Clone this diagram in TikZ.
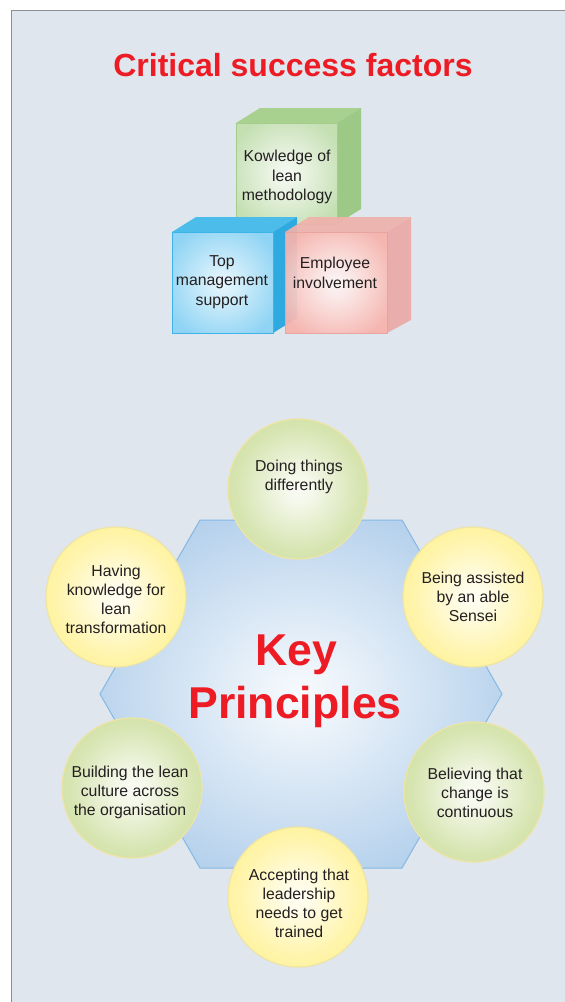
\documentclass[tikz,border=0pt]{standalone}
\usepackage{fontspec}
\setmainfont{Liberation Sans}
\definecolor{panel}{HTML}{DFE6ED}
\definecolor{panelrule}{HTML}{8E8E8E}
\definecolor{txt}{HTML}{231F20}
\definecolor{keyred}{HTML}{ED1C24}
\definecolor{greenout}{HTML}{CADC98}
\definecolor{yellowout}{HTML}{FFF08C}
\definecolor{rim}{HTML}{EDE4A6}
\definecolor{hexout}{HTML}{A2C5E7}
\definecolor{hexrim}{HTML}{86B8E3}
\definecolor{gfront}{HTML}{C4DFB2}
\definecolor{gtop}{HTML}{A8D08E}
\definecolor{gside}{HTML}{9CC986}
\definecolor{grim}{HTML}{A3CD8C}
\definecolor{bfront}{HTML}{8FD4F4}
\definecolor{btop}{HTML}{4CBCEB}
\definecolor{bside}{HTML}{2FAAE0}
\definecolor{brim}{HTML}{3DB3E7}
\definecolor{rfront}{HTML}{F7B3AC}
\definecolor{rtop}{HTML}{EFB2AC}
\definecolor{rside}{HTML}{EAAAA6}
\definecolor{rrim}{HTML}{E8A39E}
\pgfdeclareradialshading{greenball}{\pgfpoint{0bp}{0bp}}{color(0bp)=(white!90!greenout); color(5bp)=(white!80!greenout); color(22bp)=(white!25!greenout); color(35bp)=(greenout); color(50bp)=(greenout)}
\pgfdeclareradialshading{yellowball}{\pgfpoint{0bp}{0bp}}{color(0bp)=(white!90!yellowout); color(5bp)=(white!80!yellowout); color(22bp)=(white!25!yellowout); color(35bp)=(yellowout); color(50bp)=(yellowout)}
\pgfdeclareradialshading{hexshade}{\pgfpoint{0bp}{0bp}}{color(0bp)=(white!92!hexout); color(5bp)=(white!80!hexout); color(22bp)=(white!35!hexout); color(35bp)=(hexout); color(50bp)=(hexout)}
\pgfdeclareradialshading{gshade}{\pgfpoint{0bp}{0bp}}{color(0bp)=(white!85!gfront); color(8bp)=(white!65!gfront); color(30bp)=(gfront); color(50bp)=(gfront)}
\pgfdeclareradialshading{bshade}{\pgfpoint{0bp}{0bp}}{color(0bp)=(white!80!bfront); color(8bp)=(white!60!bfront); color(30bp)=(bfront); color(50bp)=(bfront)}
\pgfdeclareradialshading{rshade}{\pgfpoint{0bp}{0bp}}{color(0bp)=(white!90!rfront); color(8bp)=(white!70!rfront); color(30bp)=(rfront); color(50bp)=(rfront)}
\tikzset{
  ball/.style={circle, minimum size=140pt, inner sep=0pt, draw=rim, line width=1.2pt, shading=#1},
  lbl/.style={align=center, text=txt, font=\fontsize{15.8}{19}\selectfont, inner sep=0pt},
  cubelbl/.style={align=center, text=txt, font=\fontsize{15.8}{19.5}\selectfont, inner sep=0pt},
  bigred/.style={text=keyred, font=\bfseries\fontsize{44.6}{53}\selectfont, inner sep=0pt, anchor=base},
}
\begin{document}
\begin{tikzpicture}[x=1pt,y=-1pt]
\useasboundingbox (0,0) rectangle (565,1002);
\fill[white] (0,0) rectangle (565,1002);
\fill[panel] (11,10) rectangle (566,1003);
\draw[panelrule, line width=1.3pt] (11.6,1003) -- (11.6,10.6) -- (566,10.6);

% title
\node[text=keyred, font=\bfseries\fontsize{32}{38}\selectfont, inner sep=0pt, anchor=base] (title) at (293,76) {Critical success factors};

% green cube (back)
\fill[gtop] (236,123) -- (260,108) -- (361,108) -- (337,123) -- cycle;
\fill[gside] (337,123) -- (361,108) -- (361,209) -- (337,224) -- cycle;
\path[shading=gshade, draw=grim, line width=1pt] (236,123) rectangle (337,224);
\node[cubelbl] (kow) at (287,177) {Kowledge of\\lean\\methodology};

% blue cube
\fill[btop] (172,232) -- (196,217) -- (297,217) -- (273,232) -- cycle;
\fill[bside] (273,232) -- (297,217) -- (297,318) -- (273,333) -- cycle;
\path[shading=bshade, draw=brim, line width=1pt] (172,232) rectangle (273,333);
\node[cubelbl] (top) at (222,282) {Top\\management\\support};

% red cube
\begin{scope}[opacity=0.93]
\fill[rtop] (285,232) -- (309,217) -- (411,217) -- (387,232) -- cycle;
\fill[rside] (387,232) -- (411,217) -- (411,320) -- (387,333) -- cycle;
\path[shading=rshade, draw=rrim, line width=1pt] (285,232) rectangle (387,333);
\end{scope}
\node[cubelbl] (emp) at (335,273) {Employee\\involvement};

% hexagon
\path[shading=hexshade, draw=hexrim, line width=1pt] (200,520) -- (402,520) -- (502,694) -- (402,868) -- (200,868) -- (100,694) -- cycle;
\node[bigred] (key) at (296,665) {Key};
\node[bigred] (prin) at (295,718) {Principles};

% circles
\node[ball=greenball] (c1) at (298,489) {};
\node[lbl] (t1) at (299,476.5) {Doing things\\differently};
\node[ball=yellowball] (c2) at (116,597) {};
\node[lbl] (t2) at (116,599) {Having\\knowledge for\\lean\\transformation};
\node[ball=yellowball] (c3) at (473,597) {};
\node[lbl] (t3) at (473,597) {Being assisted\\by an able\\Sensei};
\node[ball=greenball] (c4) at (132,788) {};
\node[lbl] (t4) at (130,792.5) {Building the lean\\culture across\\the organisation};
\node[ball=greenball] (c5) at (474,792) {};
\node[lbl] (t5) at (475,792.5) {Believing that\\change is\\continuous};
\node[ball=yellowball] (c6) at (298,897) {};
\node[lbl] (t6) at (299,903) {Accepting that\\leadership\\needs to get\\trained};
\end{tikzpicture}
\end{document}
